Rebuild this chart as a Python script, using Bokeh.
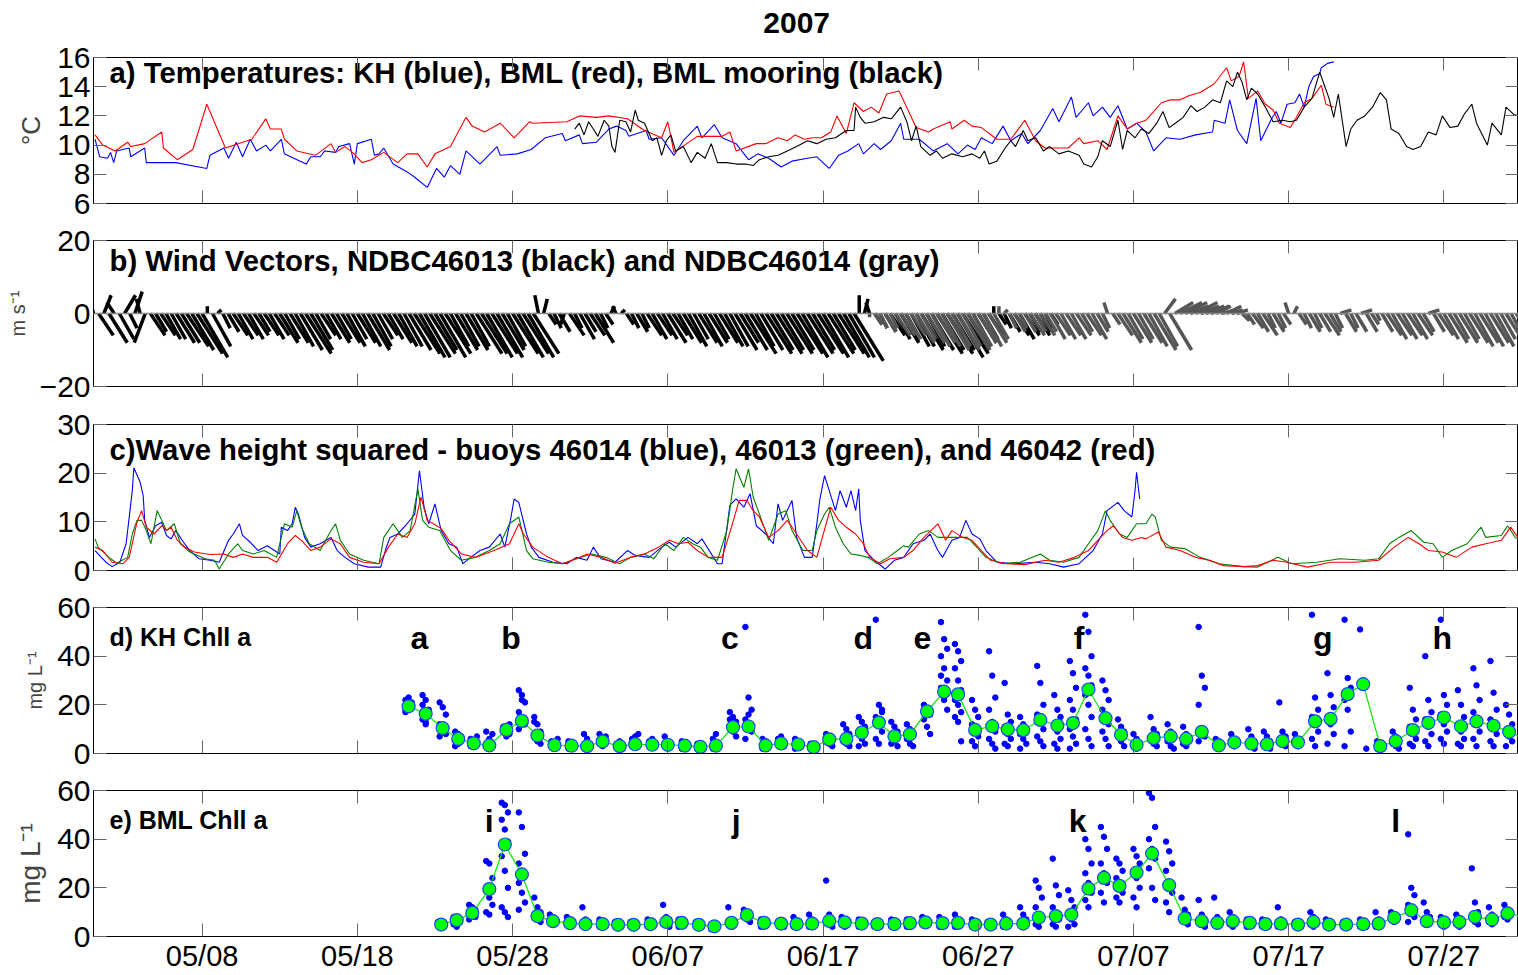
import numpy as np
from bokeh.plotting import figure
from bokeh.layouts import column
from bokeh.models import LinearAxis, FixedTicker, Range1d, Span, ColumnDataSource
from bokeh.embed import file_html
from bokeh.resources import INLINE
from bokeh.core.properties import value

# ---------------- x axis: days since 2007-05-01 ----------------
tick_days = [7, 17, 27, 37, 47, 57, 67, 77, 87]
tick_labels = ["05/08", "05/18", "05/28", "06/07", "06/17", "06/27", "07/07", "07/17", "07/27"]
main_title = "2007"

# ---------------- a) temperatures ----------------
kh_temp_day = [0.1,0.4,0.9,1.1,1.3,1.5,2.3,2.4,3.3,3.4,4.5,5.3,7.3,7.5,8.4,8.7,9.2,9.6,10.1,10.5,11.1,11.4,12.1,12.3,12.9,13.7,14.0,14.6,14.9,15.6,15.8,16.5,16.8,17.0,17.9,18.1,18.4,18.7,19.3,20.3,20.7,21.5,22.1,22.6,23.0,23.6,24.0,24.9,26.0,26.2,27.3,28.2,29.1,30.2,30.4,31.3,31.5,32.4,33.2,33.7,34.3,34.5,35.6,35.8,36.6,37.4,38.0,38.9,39.2,40.0,40.5,41.4,42.2,
               42.8,43.5,44.3,45.0,46.0,46.6,47.1,47.4,48.0,48.6,49.3,49.6,50.3,50.7,51.4,52.0,52.2,53.2,54.1,55.0,55.7,56.3,56.8,57.2,57.9,58.6,59.1,59.8,60.2,61.0,61.8,62.2,63.0,63.3,64.1,64.4,65.0,65.5,66.0,66.6,67.2,67.8,68.3,69.1,70.0,71.0,72.1,72.2,72.9,73.2,73.7,74.3,74.9,75.2,75.9,76.2,76.5,76.9,77.4,77.7,78.0,78.3,78.6,79.0,79.1,79.5,79.9]
kh_temp = [10.4,9.2,9.1,9.5,8.8,9.6,9.8,9.2,9.8,8.8,8.8,8.8,8.4,9.3,9.8,9.1,10.2,9.2,10.4,9.6,10.0,9.6,10.4,9.4,9.1,8.7,9.2,9.2,9.6,9.5,9.9,10.1,8.7,10.1,10.4,9.3,9.4,9.8,8.7,8.1,7.8,7.1,8.4,7.8,8.6,8.0,9.6,8.7,9.9,9.3,9.4,9.7,10.5,10.8,10.3,10.7,10.1,10.2,11.1,11.3,11.0,10.6,11.0,10.4,10.5,9.3,10.3,11.3,10.5,11.4,10.5,10.1,9.0,
           9.4,9.1,8.5,8.9,9.1,9.2,8.7,8.4,9.3,9.6,10.1,9.4,10.1,9.7,10.3,11.5,10.4,10.4,9.6,10.1,9.4,10.0,9.7,10.5,10.1,11.3,10.3,10.8,10.1,11.0,12.5,11.6,13.3,11.9,12.9,12.0,12.6,11.9,12.7,11.1,11.5,10.9,9.6,10.5,10.4,10.7,10.9,11.7,11.5,13.1,11.0,10.1,13.2,10.3,11.8,12.3,11.5,12.8,12.9,13.5,12.6,14.0,14.7,14.9,15.3,15.6,15.7]

bml_temp_day = [0.1,0.6,1.4,2.2,2.4,3.3,4.4,4.5,5.4,6.4,7.3,8.5,10.2,11.1,11.4,12.1,12.3,13.1,14.3,15.3,15.6,16.2,16.8,17.3,17.9,18.7,19.6,20.2,20.9,21.5,22.0,23.0,24.0,24.4,25.2,26.2,27.1,28.1,28.3,30.5,31.3,32.4,33.2,34.4,35.5,36.6,37.0,37.4,38.9,40.5,41.0,41.4,42.7,
                43.3,44.1,44.7,45.2,45.8,46.3,46.9,47.5,47.9,48.5,49.0,49.6,50.1,50.6,51.1,51.9,53.0,53.8,54.1,55.2,55.3,56.1,56.6,57.2,58.2,59.1,60.0,60.7,61.3,62.8,63.5,63.8,64.7,65.3,66.0,66.6,67.2,67.8,68.8,69.4,70.0,70.6,71.3,72.2,73.0,73.3,73.8,74.1,74.4,75.0,75.5,76.0,76.4,77.1,77.5,78.0,78.5,79.1,79.4,79.9]
bml_temp = [10.7,10.0,9.6,10.2,9.9,10.1,10.9,9.8,9.0,9.7,12.8,9.8,10.4,11.8,11.1,11.1,10.4,9.6,9.3,10.1,9.5,9.9,9.4,8.8,9.0,9.5,8.8,9.4,9.4,8.5,9.4,9.9,11.9,11.3,10.9,11.5,10.5,11.6,11.5,11.6,12.0,11.9,12.0,11.8,11.0,10.5,11.6,9.5,10.6,10.6,10.9,9.6,10.1,
            10.1,10.5,10.3,10.7,10.4,10.5,10.5,10.9,12.0,10.8,12.9,12.3,12.6,12.2,13.5,13.7,11.2,10.9,11.1,11.6,11.1,11.7,11.3,11.2,10.4,10.4,11.7,10.3,9.8,9.8,10.5,10.1,10.3,9.7,12.0,11.1,11.5,11.7,12.9,13.1,13.1,13.4,13.6,14.2,15.3,14.4,14.7,15.7,13.2,13.7,12.8,12.4,11.5,11.2,11.9,12.9,13.2,14.1,12.8,12.6]

moor_temp_day = [31.0,31.3,31.6,31.9,32.2,32.5,32.9,33.2,33.4,33.6,33.9,34.3,34.6,34.9,35.1,35.5,36.0,36.3,36.6,36.9,37.2,37.5,38.0,38.5,38.9,39.4,39.8,40.2,40.8,41.4,42.0,42.5,42.9,
                 43.5,44.1,44.7,45.3,46.0,46.6,47.2,47.8,48.5,49.0,49.1,49.4,49.7,50.3,50.9,51.4,52.0,52.4,52.7,53.0,53.3,53.9,54.3,54.7,55.3,56.0,56.6,57.1,57.4,57.7,58.2,58.8,59.1,59.4,59.9,60.2,60.7,61.2,61.6,62.2,62.8,63.5,63.8,64.3,64.7,65.0,65.5,66.0,66.3,66.6,67.1,67.5,68.0,68.5,68.9,69.3,69.7,70.2,70.7,71.1,71.6,72.1,72.6,73.0,73.4,73.7,74.0,74.3,74.6,75.0,75.5,76.0,76.6,77.1,77.5,78.0,78.5,79.0,79.3,79.6,79.9,80.2,80.7,81.0,81.4,81.9,82.4,82.9,83.3,83.6,84.1,84.6,85.0,85.5,86.0,86.5,86.9,87.4,87.9,88.3,88.8,89.1,89.8,90.1,90.7,91.0,91.5,91.9]
moor_temp = [11.1,11.5,10.7,11.6,11.1,10.6,11.7,11.3,9.9,9.5,11.7,11.6,10.9,12.4,11.7,11.5,10.3,10.5,9.3,10.3,10.7,9.6,9.9,8.8,9.5,9.1,10.1,8.8,8.8,8.7,8.7,8.6,9.0,
             9.2,9.3,9.6,9.9,10.3,10.1,10.4,10.5,11.0,11.0,12.6,11.9,11.5,11.6,11.9,11.8,12.6,11.6,10.3,11.3,9.9,9.3,9.6,9.1,9.4,9.2,9.4,9.1,9.6,8.7,8.9,9.9,10.3,9.9,11.0,10.3,10.5,9.6,9.9,9.4,9.6,9.3,8.7,8.5,9.2,10.3,9.9,11.7,9.7,11.0,10.5,11.1,10.8,11.5,12.3,11.2,11.5,11.9,12.7,12.3,12.6,13.1,12.9,14.4,14.0,15.0,14.3,13.1,13.9,13.5,12.6,11.6,11.7,11.6,11.7,12.6,13.2,15.0,14.1,13.2,11.9,13.5,9.9,11.1,11.7,12.0,12.6,13.6,13.1,11.1,10.8,9.9,9.7,9.9,10.9,10.7,12.0,11.2,11.3,12.1,12.8,11.5,10.0,11.5,10.7,12.6,12.1,12.0]

# ---------------- b) wind (3 samples per day) ----------------
wind_per_day = 3
b46013_start = 0.0
b46013_v = [4,-6,5, -8,3,-7, 5,-4,6, 4,-8,-6, -5,-6,-7, -7,-8,-8, -9,-10,-11, -12,2,-9, 1,-4,-5, -6,-7,-6,
            -7,-6,-5, -6,-7,-6, -8,-7,-8, -9,-10,-11, -10,-7,-6, -7,-8,-7, -8,-9,-7, -8,-9,-10, -9,-7,-6, -7,-8,-9,
            -9,-10,-11, -12,-12,-11, -10,-12,-11, -9,-10,-9, -10,-9,-11, -11,-12,-11, -12,-10,-9, -11,-12,-11, -12,-11,5, 4,-3,-4,
            -5,-3,-6, -4,-7,-5, -6,-8,-4, -3,2,2, 1,-3,-4, -5,-4,-6, -7,-6,-7, -8,-6,-7, -8,-9,-7, -8,-9,-8,
            -7,-8,-9, -9,-10,-8, -10,-11,-9, -10,-11,-10, -11,-10,-11, -10,-11,-12, -11,-10,-11, -12,-11,-10, -11,-12,-12, -13,5,4,
            3,-3,-4, -5,-6,-7, -8,-7,-9, -9,-10,-9, -10,-11,-10, -11,-10,-12, -11,-10,-9, -8,-7,-6, 2,-3,-4, -5,-6,-7,
            -6,-5,-6, -5,-4,-3]
b46013_u = [-1,4,2, 5,-2,4, 3,2,2, -1,-3,4, 3,4,4, 4,5,5, 6,6,7, 7,0,5, 1,2,3, 4,4,4,
            4,4,3, 4,4,4, 5,4,5, 5,6,7, 6,4,4, 4,5,4, 5,5,4, 5,5,6, 5,4,4, 4,5,5,
            5,6,7, 7,7,7, 6,7,7, 5,6,5, 6,5,7, 7,7,7, 7,6,5, 7,7,7, 7,7,-1, 1,2,2,
            3,-1,4, 2,4,3, 4,5,2, 2,1,-1, 1,2,2, 3,2,4, 4,4,4, 5,4,4, 5,5,4, 5,5,5,
            4,5,5, 5,6,5, 6,7,5, 6,7,6, 7,6,7, 6,7,7, 7,6,7, 7,7,6, 7,7,7, 8,0,1,
            -1,2,2, 3,4,4, 5,4,5, 5,6,5, 6,7,6, 7,6,7, 7,6,5, 5,4,4, 0,2,2, 3,4,4,
            4,3,4, 3,2,2]
b46014_start = 50.0
b46014_v = [-1,-3,-4, -5,-4,-6, -6,-7,-6, -8,-7,-8, -9,-8,-9, -10,-9,-10, -9,-10,-9, -8,-9,-8, -7,2,1, -4,-5,-4,
            -5,-6,-5, -6,-5,-7, -6,-7,-6, -7,-6,-5, -6,-7,-5, -4,3,-3, -6,-8,-7, -8,-7,-8, -9,-10,-9, 4,-10,3,
            3,3,2, 3,2,2, 2,2,1, 2,1,1, -2,-3,-4, -5,-6,-4, -5,-4,-3, 3,2,-3, -4,-5,-4, -5,-6,-5,
            -4,1,-5, -4,-5,1, -5,-3,-2, -5,-6,-7, -6,-7,-6, -7,-6,-5, 1,-5,-6, -7,-8,-7, -8,-7,-8, -9,-8,-9,
            -8,-9,-7, -8,-9,-8]
b46014_u = [0,2,2, 3,2,4, 4,4,4, 5,4,5, 5,5,5, 6,5,6, 5,6,5, 5,5,5, 4,0,1, 2,3,2,
            3,4,3, 4,3,4, 4,4,4, 4,4,3, 4,4,3, 2,-1,2, 4,5,4, 5,4,5, 5,6,5, 3,6,5,
            6,6,5, 6,5,5, 5,4,4, 4,3,3, 2,2,3, 3,4,2, 3,2,2, -1,1,2, 2,3,2, 3,4,3,
            2,3,3, 2,3,3, 3,2,1, 3,4,4, 4,4,4, 4,4,3, 3,3,4, 4,5,4, 5,4,5, 5,5,5,
            5,5,4, 5,5,5]

# ---------------- c) wave height squared ----------------
w46014_day = [0.1,0.8,1.2,1.7,2.1,2.5,2.6,3.0,3.2,3.3,3.6,4.0,4.4,4.7,5.0,5.3,5.8,6.2,6.8,7.5,8.1,8.7,9.0,9.4,9.6,10.1,10.6,11.2,12.0,12.1,12.5,12.8,13.0,13.2,13.6,14.0,14.6,15.3,15.7,16.2,16.8,17.7,18.5,18.8,19.1,19.6,20.1,20.7,21.0,21.3,21.6,22.0,22.4,22.9,23.4,23.8,24.3,24.9,25.5,26.2,26.5,26.9,27.1,27.4,27.9,28.2,28.7,29.6,30.5,31.1,31.8,32.2,32.7,33.6,34.4,34.9,35.8,36.6,37.1,37.5,38.3,38.9,39.2,40.2,40.5,41.0,41.4,41.9,42.3,42.7,
              43.3,43.8,44.1,44.4,45.0,45.3,45.8,46.3,46.6,46.8,47.1,47.4,47.8,48.1,48.5,48.8,49.1,49.3,49.4,49.7,50.3,51.0,51.6,52.2,52.8,53.5,53.9,54.4,54.7,55.3,55.8,56.2,56.6,57.1,57.5,58.2,59.4,60.7,61.6,62.5,63.5,64.4,65.0,65.3,66.0,66.4,66.9,67.1,67.2,67.4]
w46014 = [4.1,1.7,0.8,1.7,5.5,16.4,21.1,18.2,15.4,10.3,6.8,9.2,9.9,7.2,6.5,8.2,5.8,4.1,2.4,2.1,1.7,6.2,7.5,9.6,7.2,5.8,4.1,5.1,3.4,8.9,8.2,9.6,13.0,11.6,6.8,4.8,5.5,6.8,4.1,2.7,1.4,0.7,0.7,4.1,6.8,7.5,9.2,11.6,20.5,13.0,9.6,13.7,8.2,5.5,4.8,1.4,2.7,4.1,4.8,7.5,4.8,11.0,14.7,14.0,7.5,4.8,2.7,1.7,1.4,2.7,2.1,4.8,2.4,1.7,4.1,3.1,2.7,4.8,5.8,4.8,6.8,5.5,6.5,1.4,1.4,13.4,14.7,13.0,15.8,9.2,
          7.5,5.5,13.7,10.3,14.4,6.8,2.7,2.7,9.6,14.7,19.5,16.4,12.3,16.4,13.0,16.4,12.3,16.8,10.3,4.1,2.1,0.3,2.1,2.7,5.5,6.2,7.5,4.1,2.7,6.2,6.8,10.3,7.5,6.5,4.1,1.7,1.4,1.7,1.4,0.7,1.4,4.1,7.5,12.3,14.0,12.3,11.0,16.4,20.2,14.7]

w46013_day = [0.1,0.3,1.0,1.5,2.2,2.5,2.8,3.1,3.4,3.7,4.1,4.4,4.7,5.2,5.6,6.2,7.2,7.8,8.1,8.7,9.3,9.6,10.3,11.0,11.8,12.3,12.8,13.1,13.4,13.9,14.6,15.3,15.6,15.9,16.5,17.4,18.4,18.7,19.3,19.9,20.4,20.9,21.2,21.6,22.3,23.0,23.7,24.6,25.5,26.2,26.8,27.4,27.9,28.3,29.3,30.2,31.1,32.1,33.0,33.9,34.6,35.5,36.1,36.8,37.4,38.0,38.6,39.1,39.6,40.2,40.8,41.2,41.4,41.9,42.2,42.5,42.9,
              43.5,44.1,44.6,45.0,45.7,46.3,46.6,47.1,47.4,47.8,48.3,48.8,49.4,49.9,50.5,51.2,51.8,52.2,52.5,53.2,53.8,54.4,55.3,56.3,56.9,57.5,58.5,59.7,61.0,61.6,62.5,63.5,64.1,64.7,65.2,65.5,66.1,66.6,67.2,67.8,68.2,68.4,68.8,69.4,70.3,71.3,72.5,74.1,75.0,76.3,77.2,78.8,80.3,81.9,82.8,83.5,84.1,84.9,85.7,86.3,86.9,87.5,88.5,89.4,89.7,90.7,91.1,91.6,91.9]
w46013 = [6.5,4.8,2.7,1.5,2.7,7.5,10.3,10.3,8.2,5.5,12.3,10.3,8.2,9.6,5.5,3.8,2.4,2.1,0.3,3.4,5.5,4.1,3.4,4.1,2.7,9.6,8.9,12.3,8.9,5.5,4.1,8.2,9.6,6.2,3.4,2.1,1.4,6.8,9.6,6.8,8.2,16.8,10.3,8.9,8.2,4.1,2.1,2.7,4.1,5.5,9.6,11.0,4.1,2.4,1.7,1.4,2.4,3.4,2.7,1.4,2.7,3.4,2.4,5.5,4.1,6.8,5.5,4.8,2.7,2.1,8.2,17.1,20.9,17.1,20.9,15.1,11.6,
          6.2,11.6,12.3,8.2,4.1,4.1,8.2,11.6,13.0,8.9,5.5,3.4,3.1,2.7,1.4,2.7,4.1,5.1,4.8,7.5,8.2,6.8,6.8,6.8,4.8,2.7,1.4,1.7,3.4,2.1,1.7,2.7,5.5,8.2,12.3,10.3,7.5,6.8,9.6,9.6,11.6,11.0,6.2,4.8,4.5,2.7,1.4,0.8,0.7,2.7,1.4,1.7,2.4,2.1,2.4,5.5,6.8,8.2,5.8,5.5,2.7,4.1,5.5,8.9,6.8,7.2,9.2,6.8,6.2]

w46042_day = [0.1,0.6,1.2,1.9,2.3,2.8,3.1,3.4,3.9,4.4,4.7,5.0,5.4,5.9,6.5,7.5,8.4,9.0,9.6,10.3,11.2,11.8,12.5,13.0,13.4,14.0,14.6,15.3,15.9,16.5,17.4,18.4,19.0,19.6,20.2,20.7,21.1,21.5,21.9,22.4,22.9,23.7,24.6,25.2,25.8,26.8,27.4,27.7,28.3,29.3,30.2,31.1,31.8,32.7,33.6,34.6,35.5,36.4,37.1,37.7,38.3,38.9,39.6,40.5,41.1,41.6,42.1,42.5,42.9,
              43.5,44.1,44.7,45.3,46.0,46.6,47.2,47.5,48.0,48.5,49.1,49.6,50.0,50.7,51.3,52.2,52.8,53.5,54.4,54.9,55.3,56.0,56.6,57.2,57.8,58.8,60.0,61.3,62.2,63.2,64.1,64.7,65.3,65.7,66.3,66.9,67.5,67.8,68.6,69.1,70.0,71.0,71.9,72.8,74.1,75.0,76.0,76.9,78.2,79.7,81.3,82.8,83.8,84.7,85.4,86.0,86.9,87.8,88.8,89.7,90.7,91.3,91.9]
w46042 = [4.8,4.1,1.7,1.4,2.7,9.9,12.3,8.9,7.5,9.2,8.2,8.9,6.2,4.8,3.8,3.3,3.4,2.7,3.4,2.7,2.7,1.7,5.5,7.2,6.2,4.1,4.8,6.5,5.5,2.7,1.7,1.4,4.8,7.5,6.8,9.6,15.1,10.3,9.6,8.6,6.2,3.4,2.7,3.4,4.1,5.5,9.6,7.5,4.8,2.7,1.4,2.4,3.4,2.7,1.5,2.7,3.4,4.8,6.2,5.5,5.8,4.1,2.7,2.7,8.9,14.4,14.4,12.3,11.0,
          6.8,8.2,10.3,7.5,4.1,2.7,9.6,13.0,10.3,8.9,7.5,5.5,2.7,1.4,2.4,2.7,4.1,6.8,9.6,6.2,8.2,6.8,6.2,4.1,2.1,1.4,1.2,2.1,1.7,2.7,4.1,6.2,8.2,9.2,6.8,6.2,6.8,6.5,7.9,4.8,4.1,2.7,2.1,1.0,0.8,1.0,2.1,1.7,0.7,1.7,1.7,2.1,4.8,6.8,5.5,4.1,3.8,2.7,4.8,5.5,6.2,8.9,6.2]

# ---------------- d) KH chlorophyll a ----------------
kh_chl_day = [20.3,21.4,22.5,23.5,24.5,25.5,26.6,27.6,28.6,29.7,30.8,31.8,32.8,33.9,34.9,36.0,37.0,38.1,39.1,40.1,41.2,42.2,43.3,44.3,45.4,46.4,47.4,48.5,49.5,50.6,51.6,52.6,53.7,54.8,55.7,56.8,57.9,58.9,59.9,61.0,62.1,63.1,64.1,65.2,66.2,67.2,68.3,69.4,70.4,71.4,72.5,73.5,74.6,75.6,76.6,77.6,78.7,79.7,80.8,81.8,82.9,83.9,85.0,86.0,87.0,88.1,89.1,90.2,91.2,92.3]
kh_chl_mean = [19.4,16.3,10.4,6.0,4.2,3.3,9.7,13.4,7.4,3.4,3.2,3.0,4.9,3.0,3.8,3.6,3.6,3.2,2.7,3.2,10.8,11.1,3.3,4.1,3.7,2.6,5.8,6.0,8.6,12.7,7.0,7.9,17.3,25.4,24.3,9.7,11.2,9.9,9.6,13.8,11.5,12.5,26.3,14.5,7.7,3.6,6.3,7.0,6.0,8.9,3.3,4.6,4.1,3.8,5.1,4.6,13.2,14.2,24.4,28.5,3.0,5.1,9.6,12.6,14.8,11.2,13.2,11.4,8.9,5.5]
kh_chl_samples = [
    [17,19,21,22,23,20,18], [24,22,18,14,12,16,20,13], [21,19,16,12,9,8,7,11], [9,8,6,5,4,7,3], [6,5,4,3,4,7],
    [9,6,4,3,2,8], [11,9,8,10,7,12], [26,24,21,17,15,12,10,22,13], [15,12,9,7,5,4,13], [5,4,3,3,2,6],
    [5,4,3,2,3], [8,6,4,3,2,3], [8,6,5,4,3,7], [4,3,2,3,5], [6,5,4,3,7,8],
    [5,4,3,3,6], [7,5,4,3,2], [5,4,3,2,3], [4,3,2,3,2], [6,4,3,2,8],
    [17,15,13,11,9,7,14], [52,23,18,14,12,9,6,16], [6,4,3,2,5], [5,4,3,6,7], [6,4,3,2,5],
    [4,3,2,2,3], [8,7,6,5,4,3], [12,10,8,6,4,3,5], [15,13,11,9,6,4,3], [55,20,18,15,12,9,6,4,17],
    [13,11,9,7,5,3,4], [12,10,8,6,4,3], [20,18,16,14,11,8], [54,47,43,40,35,30,27,22,18,32], [45,42,38,35,30,26,22,20,17,15,13,5],
    [22,18,15,12,9,7,5,3], [42,32,23,18,13,9,6,4,2], [29,16,13,11,8,6,4,3], [15,12,10,8,6,4,2], [36,29,20,16,13,10,7,5,3],
    [24,18,15,12,9,6,4,2], [38,33,27,22,18,14,10,7,4,2], [57,50,40,35,32,28,24,20,15,10,6,3], [30,26,22,18,15,12,9,6,3], [14,11,9,7,5,3],
    [8,6,4,3,2], [15,10,8,6,4,3], [12,9,7,5,3,2], [11,8,6,4,3], [52,32,27,20,10,7,5],
    [6,5,4,3,2], [8,6,5,4,3], [10,7,5,4,3,2], [9,7,5,4,3,2], [21,9,7,5,4,3],
    [8,6,5,4,3], [57,23,18,15,12,9,6,3], [33,24,19,15,12,8,4], [55,31,27,22,18,9,3], [51,30,2],
    [5,4,3,2,3], [9,7,5,4,3,2], [27,18,14,11,8,6,4,3], [40,22,17,14,11,8,5,3], [55,24,20,16,12,9,6,4],
    [26,20,15,12,9,6,4,3], [35,28,22,17,13,9,6,3], [38,25,18,14,11,8,5,3], [20,16,12,9,7,5,3], [8,6,4,3],
]
kh_event_labels = ["a", "b", "c", "d", "e", "f", "g", "h"]
kh_event_day = [21.0, 26.9, 41.0, 49.6, 53.4, 63.5, 79.2, 86.9]

# ---------------- e) BML chlorophyll a ----------------
bml_chl_day = [22.4,23.4,24.4,25.5,26.5,27.6,28.6,29.6,30.7,31.7,32.8,33.8,34.8,35.9,36.9,37.9,39.0,40.0,41.1,42.1,
               43.2,44.3,45.3,46.3,47.4,48.4,49.5,50.5,51.6,52.6,53.6,54.7,55.7,56.8,57.8,58.8,59.9,60.9,62.0,63.0,64.1,65.1,66.1,67.2,68.2,69.3,70.3,71.4,72.4,73.4,74.5,75.5,76.5,77.6,78.6,79.6,80.7,81.8,82.8,83.8,84.9,85.9,87.0,88.0,89.0,90.1,91.1,92.2]
bml_chl_mean = [4.9,6.7,9.7,19.5,37.8,25.5,8.4,6.3,5.5,5.1,5.1,4.8,4.8,5.1,6.0,5.6,4.8,4.2,5.6,8.8,
                5.6,5.3,5.1,5.3,6.4,5.8,5.3,5.1,5.1,5.5,5.8,5.5,5.6,4.9,4.9,5.3,5.3,7.8,8.4,9.0,19.7,24.1,20.8,26.3,34.1,21.1,7.4,6.3,5.6,6.3,5.6,5.1,5.3,4.9,6.0,4.9,4.9,5.1,5.3,7.7,10.8,6.3,5.8,6.0,8.1,7.0,9.5,8.0]
bml_chl_samples = [
    [6,5,4,5,6], [8,7,6,5,4,6], [13,12,11,10,9,8,7], [31,30,24,19,16,13,10,9,20], [55,54,51,48,44,39,33,27,20,12,10,8],
    [51,45,34,30,27,25,22,18,14,11], [16,12,10,8,7,6], [9,8,7,6,5], [8,7,6,5,4], [12,7,6,5,4],
    [7,6,5,4], [6,5,4,4], [6,5,4,4], [7,6,5,4], [13,8,7,6,5,4],
    [7,6,5,4], [6,5,4,4], [5,4,4,3], [12,7,6,5,4], [11,10,9,8,7,6],
    [7,6,5,4], [6,5,4,5], [8,6,5,4], [9,7,5,4], [23,9,7,6,5,4],
    [8,7,6,5,4], [7,6,5,4], [6,5,4,4], [7,6,5,4], [7,6,5,4],
    [8,7,6,5], [8,6,5,4], [9,7,5,4], [7,5,4,4], [6,5,4,4],
    [9,7,5,4], [12,9,7,5,4], [23,20,16,12,9,7,5,4], [32,21,17,12,9,7,5,4], [19,15,12,9,7,5,4],
    [40,36,30,26,22,18,15,12], [45,41,36,30,26,22,18,14], [32,30,27,24,21,18,16,14], [36,33,30,27,24,20,16,12], [59,57,45,40,36,32,28,20,15],
    [39,35,30,27,22,18,14,10], [16,11,9,7,6,5], [15,9,7,6,5,4], [16,8,6,5,4], [10,8,6,5,4],
    [7,6,5,4], [7,5,4,4], [12,7,5,4], [6,5,4,4], [10,8,6,5,4],
    [7,5,4,4], [6,5,4,4], [7,5,4,4], [10,7,5,4], [10,9,8,7,6],
    [42,20,17,13,10,8,6], [14,10,8,6,5], [8,7,6,5,4], [9,7,6,5,4], [28,14,10,8,6,5],
    [12,9,7,6,5], [13,11,9,8,7], [10,8,7],
]
bml_event_labels = ["i", "j", "k", "l"]
bml_event_day = [25.5, 41.4, 63.4, 83.9]

# =================================================================
FONT = "Liberation Sans"
PX_PER_DAY = 15.5
LEFT = 93
W = 1518
FRAME_W = W - LEFT - 2
X_END = FRAME_W / PX_PER_DAY
TITLE_H = 38


def style(ax, ticks, labels, fs="30px"):
    ax.major_tick_in = 13
    ax.major_tick_out = 0
    ax.minor_tick_in = 0
    ax.minor_tick_out = 0
    ax.major_tick_line_color = "#666666"
    ax.major_tick_line_width = 1
    ax.axis_line_color = "black"
    ax.major_label_text_font = FONT
    ax.major_label_text_color = "black"
    if labels:
        ax.major_label_text_font_size = fs
        ax.major_label_standoff = 3
    else:
        ax.major_label_overrides = {t: "" for t in ticks}
        ax.major_label_text_font_size = "1px"
        ax.major_label_standoff = 0


def make_panel(y0, y1, yticks, top, bottom, ylabel, ylabel_size, xlabels=False):
    p = figure(width=W, height=146 + top + bottom,
               x_range=Range1d(0, X_END), y_range=Range1d(y0, y1),
               output_backend="svg", toolbar_location=None,
               x_axis_location=None, y_axis_location=None,
               min_border_left=LEFT, min_border_right=0,
               min_border_top=top, min_border_bottom=bottom)
    p.outline_line_color = "black"
    p.outline_line_width = 1
    p.background_fill_color = "white"
    p.border_fill_color = "white"
    p.grid.visible = False

    left = LinearAxis(ticker=FixedTicker(ticks=yticks, minor_ticks=[]))
    style(left, yticks, True)
    if ylabel:
        left.axis_label = ylabel
        left.axis_label_text_font = FONT
        left.axis_label_text_font_size = ylabel_size
        left.axis_label_text_font_style = "normal"
        left.axis_label_standoff = 8
    p.add_layout(left, "left")
    right = LinearAxis(ticker=FixedTicker(ticks=yticks, minor_ticks=[]))
    style(right, yticks, False)
    p.add_layout(right, "right")

    below = LinearAxis(ticker=FixedTicker(ticks=tick_days, minor_ticks=[]))
    if xlabels:
        style(below, tick_days, True, "29px")
        below.major_label_overrides = {d: lab for d, lab in zip(tick_days, tick_labels)}
    else:
        style(below, tick_days, False)
    p.add_layout(below, "below")
    above = LinearAxis(ticker=FixedTicker(ticks=tick_days, minor_ticks=[]))
    style(above, tick_days, False)
    p.add_layout(above, "above")
    return p


def panel_text(p, x, y, txt, size, align="left"):
    src = ColumnDataSource(dict(x=[x], y=[y], t=[txt]))
    p.text(x="x", y="y", text="t", source=src, text_font=value(FONT), text_font_size=size,
           text_font_style="bold", text_align=align, text_baseline="middle", text_color="black")


# ---- overall title strip (its frame is aligned with the panels below)
pt = figure(width=W, height=TITLE_H, x_range=Range1d(0, X_END), y_range=Range1d(TITLE_H, 0),
            output_backend="svg", toolbar_location=None, x_axis_location=None, y_axis_location=None,
            min_border=0)
pt.outline_line_color = None
pt.grid.visible = False
pt.text(x=[45.3], y=[22], text=[main_title], text_font=value(FONT), text_font_size="30px",
        text_font_style="bold", text_align="center", text_baseline="middle", text_color="black")

# ---- a
pa = make_panel(6, 16, [6, 8, 10, 12, 14, 16], 57 - TITLE_H, 18, "°C", "26px")
pa.line(kh_temp_day, kh_temp, color="#0000ff", line_width=1.1)
pa.line(bml_temp_day, bml_temp, color="#ff0000", line_width=1.1)
pa.line(moor_temp_day, moor_temp, color="black", line_width=1.1)
panel_text(pa, 1.03, 14.97, "a) Temperatures: KH (blue), BML (red), BML mooring (black)", "29.3px")

# ---- b
STICK = 3.65 / PX_PER_DAY  # days per (m/s) so sticks keep true direction
pb = make_panel(-20, 20, [-20, 0, 20], 19, 19, "m s⁻¹", "20px")
pb.add_layout(Span(location=0, dimension="width", line_color="#888888", line_width=1.5))
t13 = b46013_start + np.arange(len(b46013_v)) / wind_per_day
u13 = np.array(b46013_u, dtype=float)
v13 = np.array(b46013_v, dtype=float)
pb.segment(x0=t13, y0=np.zeros_like(t13), x1=t13 + u13 * STICK, y1=v13, color="black", line_width=3.5)
t14 = b46014_start + np.arange(len(b46014_v)) / wind_per_day
u14 = np.array(b46014_u, dtype=float)
v14 = np.array(b46014_v, dtype=float)
pb.segment(x0=t14, y0=np.zeros_like(t14), x1=t14 + u14 * STICK, y1=v14, color="#555555", line_width=3.5)
panel_text(pb, 1.03, 14.5, "b) Wind Vectors, NDBC46013 (black) and NDBC46014 (gray)", "29.3px")

# ---- c
pc = make_panel(0, 30, [0, 10, 20, 30], 19, 18, None, None)
pc.line(w46014_day, w46014, color="#0000ff", line_width=1.1)
pc.line(w46013_day, w46013, color="#008000", line_width=1.1)
pc.line(w46042_day, w46042, color="#ff0000", line_width=1.1)
panel_text(pc, 1.03, 24.9, "c)Wave height squared - buoys 46014 (blue), 46013 (green), and 46042 (red)", "29.3px")


def chl_panel(p, days, means, samples, ev_labels, ev_days, title):
    offs = [-0.2, 0.0, 0.2]
    xs, ys = [], []
    for c, vals in zip(days, samples):
        for j, v in enumerate(vals):
            xs.append(c + offs[j % 3])
            ys.append(v)
    p.scatter(xs, ys, size=5.5, color="#0000ff", line_color="#0000ff")
    p.line(days, means, color="#00ee00", line_width=1.2)
    p.scatter(days, means, size=13, fill_color="#00ff00", line_color="#2244ff", line_width=1.2)
    src = ColumnDataSource(dict(x=ev_days, y=[47.3] * len(ev_days), t=ev_labels))
    p.text(x="x", y="y", text="t", source=src, text_font=value(FONT), text_font_size="32px",
           text_font_style="bold", text_align="center", text_baseline="middle", text_color="black")
    panel_text(p, 1.03, 47.7, title, "25px")


# ---- d
pd_ = make_panel(0, 60, [0, 20, 40, 60], 19, 18, "mg L⁻¹", "20px")
chl_panel(pd_, kh_chl_day, kh_chl_mean, kh_chl_samples, kh_event_labels, kh_event_day, "d) KH Chll a")

# ---- e
pe = make_panel(0, 60, [0, 20, 40, 60], 19, 39, "mg L⁻¹", "28px", xlabels=True)
chl_panel(pe, bml_chl_day, bml_chl_mean, bml_chl_samples, bml_event_labels, bml_event_day, "e) BML Chll a")

layout = column(pt, pa, pb, pc, pd_, pe, spacing=0)
open("out.html", "w").write(file_html(layout, INLINE))
